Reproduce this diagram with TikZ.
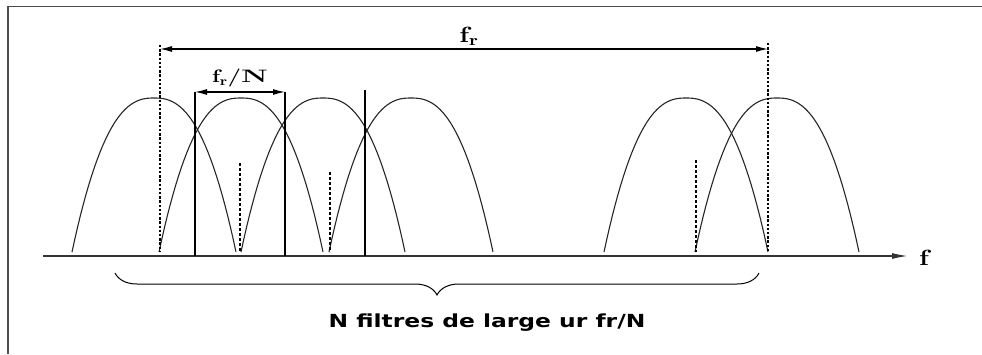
\documentclass[tikz,border=0pt]{standalone}
\usepackage{graphicx}
\usepackage{fontspec}
\newfontfamily\capfont{DejaVu Sans}
\usetikzlibrary{arrows.meta, positioning, decorations.pathreplacing}
\newcommand{\widelbl}[1]{\scalebox{1.3}[1]{#1}}

\begin{document}
\begin{tikzpicture}[
    x=1pt, y=-1pt,
    >={Latex[length=12pt,width=6pt]},
    arch/.style ={line width=1.1pt, black!85},
    tall/.style ={line width=2pt, dash pattern=on 2.4pt off 1.8pt},
    short/.style={line width=1.3pt, dash pattern=on 3pt off 2pt},
    edge/.style ={line width=1.2pt},
    dim/.style  ={<->, line width=1.2pt},
    axis/.style ={-{Latex[length=16pt,width=6pt]}, line width=1.4pt, black!80},
    frame/.style={line width=1.6pt, black!70},
    lbl/.style  ={inner sep=1pt, font=\bfseries},
]
\useasboundingbox (0,0) rectangle (982,354);
\draw[frame] (982,6.5) -- (8,6.5) -- (8,354);

% filter responses
\foreach \c in {154,241,323,411,686,777}
  \draw[arch] plot[domain=-1:1, samples=60]
       ({\c+82*\x},{252-154*(1-\x*\x*sqrt(abs(\x)))});

% frequency axis
\coordinate (ax0) at (43,256);
\coordinate (ax1) at (908,256);
\draw[axis] (ax0) -- (ax1);
\node[lbl, right=10pt of ax1, yshift=-2pt] (flbl)
     {\widelbl{\fontsize{22}{24}\selectfont f}};

% band f_r
\coordinate (frL) at (160,49);
\coordinate (frR) at (768,49);
\draw[tall] (160,45) -- (160,252);
\draw[tall] (768,43) -- (768,252);
\draw[dim] (frL) -- (frR)
     node[lbl, midway, above=2pt, xshift=5pt] (frlbl)
     {\widelbl{\fontsize{22}{24}\selectfont f$_{\mathbf{r}}$}};

% one filter width f_r/N
\coordinate (bL) at (195,92);
\coordinate (bR) at (285,92);
\draw[edge] (bL) -- (195,256);
\draw[edge] (bR) -- (285,256);
\draw[edge] (365,90) -- (365,256);
\draw[dim] (bL) -- (bR)
     node[lbl, midway, above=3pt] (frNlbl)
     {\widelbl{\fontsize{18}{20}\selectfont f$_{\mathbf{r}}$/\scalebox{1.3}[1]{N}}};

% centre marks
\draw[short] (240,163) -- (240,252);
\draw[short] (330,172) -- (330,252);
\draw[short] (696,160) -- (696,252);

% brace over the N filters
\coordinate (brL) at (115,273);
\coordinate (brR) at (759,273);
\draw[line width=1pt, decorate, decoration={brace, mirror, amplitude=22pt}]
     (brL) -- (brR);
\node[inner sep=0pt, font=\capfont\bfseries\fontsize{18}{20}\selectfont]
     (caption) at (487,323) {\widelbl{N filtres de large ur fr/N}};
\end{tikzpicture}
\end{document}
